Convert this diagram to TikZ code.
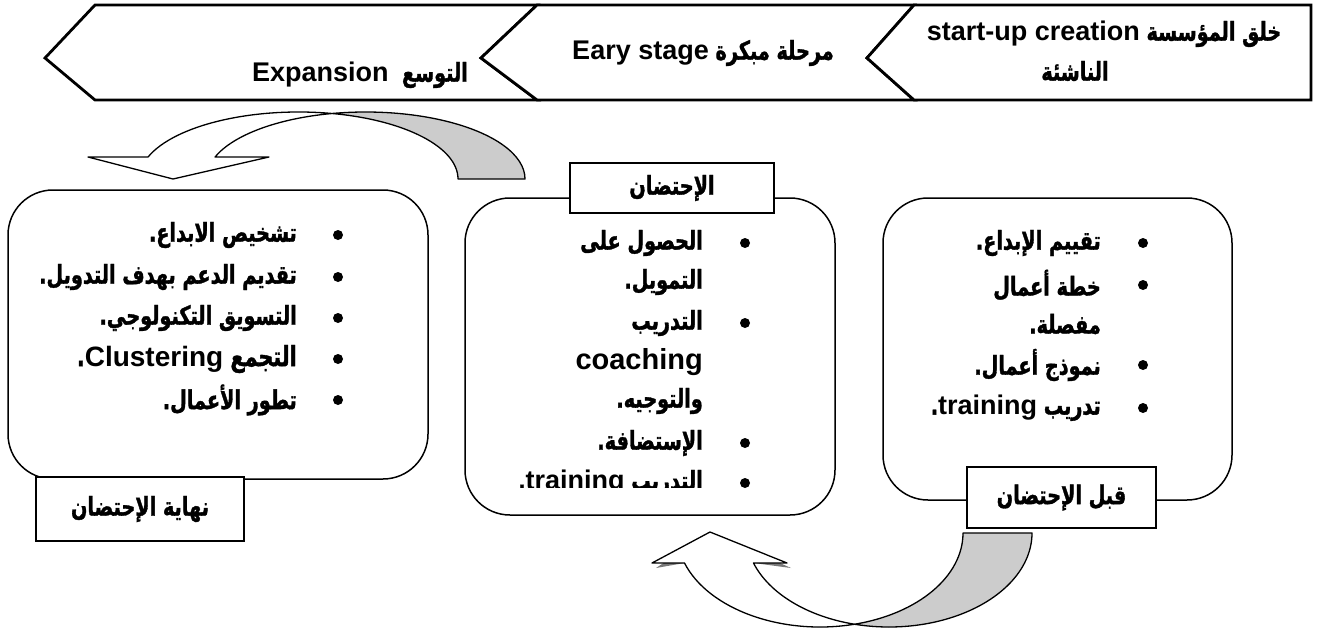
\documentclass[tikz,border=0pt]{standalone}
\usepackage{fontspec}
\setmainfont{Liberation Sans}
\newfontfamily\arabicfont[Script=Arabic, FakeStretch=0.74, BoldFeatures={FakeBold=1.3}]{DejaVu Sans}
\newfontfamily\latinfont{Liberation Sans}
\TeXXeTstate=1
\def\ltsz{27}
\newcommand{\artxt}[1]{{\arabicfont\bfseries\beginR #1\endR}}
\newcommand{\lttxt}[1]{\beginL{\latinfont\bfseries\fontsize{\ltsz}{\ltsz}\selectfont #1}\endL}
\definecolor{backgray}{RGB}{204,204,204}
\definecolor{shadegray}{RGB}{120,120,120}

% curved block arrow from the pre-incubation box back to the incubation box
\newcommand{\upArrowFront}{(btip) -- (787,-563) -- ([shift={(198.6:143 and 94)}]br)
  arc[start angle=198.6, end angle=256.04, x radius=143, y radius=94]
  arc[start angle=283.96, end angle=198.6, x radius=143, y radius=94]
  -- (652,-563) -- cycle}
\newcommand{\upArrowBack}{([shift={(283.96:143 and 94)}]bl)
  arc[start angle=283.96, end angle=360, x radius=143, y radius=94]
  -- ([shift={(0:143 and 94)}]br)
  arc[start angle=360, end angle=256.04, x radius=143, y radius=94] -- cycle}

\begin{document}
\begin{tikzpicture}[x=1pt,y=1pt,
  band/.style={draw, line width=2.8pt, line join=miter, fill=white},
  panel/.style={draw, line width=1.5pt, rounded corners=45pt, fill=white},
  tag/.style={draw, line width=1.8pt, fill=white, inner sep=0pt,
    font=\fontsize{26}{30}\selectfont},
  item/.style={anchor=east, inner sep=0pt, font=\fontsize{26}{30}\selectfont},
  bantext/.style={inner sep=0pt, font=\fontsize{26}{30}\selectfont},
  dot/.style={circle, fill=black, minimum size=10pt, inner sep=0pt},
  arrowline/.style={draw, line width=1.3pt, line join=round}]

\useasboundingbox (0,0) rectangle (1317,-637);
\fill[white] (0,0) rectangle (1317,-637);

% ---- stage banner (three chevrons) ----
\draw[band] (95,-5) -- (537,-5) -- (481,-58) -- (537,-100) -- (95,-100) -- (45,-58) -- cycle;
\draw[band] (537,-5) -- (914,-5) -- (867,-58) -- (914,-100) -- (537,-100) -- (481,-58) -- cycle;
\draw[band] (914,-5) -- (1311,-5) -- (1311,-100) -- (914,-100) -- (867,-58) -- cycle;

\node[bantext] (expansion) at (360,-75) {\artxt{التوسع\ \ \lttxt{Expansion}}};
\node[bantext] (early) at (703,-53) {\artxt{مرحلة مبكرة \lttxt{Eary stage}}};
\node[bantext] (startupA) at (1104,-34) {\artxt{خلق المؤسسة \lttxt{start-up creation}}};
\node[bantext] (startupB) at (1075,-71) {\artxt{الناشئة}};

% ---- curved arrow: incubation -> end of incubation ----
\coordinate (tl) at (298.6,-179);
\coordinate (tr) at (365.6,-179);
\coordinate (ttip) at (173,-179);
\draw[arrowline, fill=backgray] ([shift={(77.87:159.4 and 67)}]tl)
  arc[start angle=77.87, end angle=0, x radius=159.4, y radius=67]
  -- ([shift={(0:159.4 and 67)}]tr)
  arc[start angle=0, end angle=102.13, x radius=159.4, y radius=67] -- cycle;
\draw[arrowline, fill=white] (ttip) -- (88,-157) -- ([shift={(160.83:159.4 and 67)}]tl)
  arc[start angle=160.83, end angle=77.87, x radius=159.4, y radius=67]
  arc[start angle=102.13, end angle=160.83, x radius=159.4, y radius=67]
  -- (269,-157) -- cycle;

% ---- curved arrow: pre-incubation -> incubation (with shadow) ----
\coordinate (bl) at (820,-533);
\coordinate (br) at (889,-533);
\coordinate (btip) at (710,-532);
\begin{scope}[shift={(4,-5)}]
  \fill[shadegray] \upArrowBack;
  \fill[shadegray] \upArrowFront;
\end{scope}
\draw[arrowline, fill=backgray] \upArrowBack;
\draw[arrowline, fill=white] \upArrowFront;

% ---- phase boxes ----
\node[panel, minimum width=420, minimum height=289] (endbox) at (218,-334.5) {};
\node[panel, minimum width=370, minimum height=317] (incbox) at (650,-356.5) {};
\node[panel, minimum width=349, minimum height=302] (prebox) at (1057.5,-349) {};

% end of incubation
\node[dot] (e1d) at (338,-235) {};
\node[dot] (e2d) at (338,-277) {};
\node[dot] (e3d) at (338,-318) {};
\node[dot] (e4d) at (338,-359) {};
\node[dot] (e5d) at (338,-400) {};
\node[item] (e1) at (297,-235) {\artxt{تشخيص الابداع.}};
\node[item] (e2) at (297,-277) {\artxt{تقديم الدعم بهدف التدويل.}};
\node[item] (e3) at (297,-318) {\artxt{التسويق التكنولوجي.}};
\node[item, font=\fontsize{28}{32}\selectfont] (e4) at (297,-359)
  {\def\ltsz{28}\artxt{التجمع \lttxt{Clustering}.}};
\node[item] (e5) at (297,-400) {\artxt{تطور الأعمال.}};

% incubation
\node[dot] (i1d) at (745,-243) {};
\node[dot] (i2d) at (745,-323) {};
\node[dot] (i3d) at (745,-443) {};
\node[dot] (i4d) at (745,-483) {};
\node[item] (i1) at (703,-243) {\artxt{الحصول على}};
\node[item] (i1b) at (703,-282) {\artxt{التمويل.}};
\node[item] (i2) at (703,-323) {\artxt{التدريب}};
\node[item] (i2b) at (703,-362) {\def\ltsz{29}\lttxt{coaching}};
\node[item] (i2c) at (703,-401) {\artxt{والتوجيه.}};
\node[item] (i3) at (703,-443) {\artxt{الإستضافة.}};
\begin{scope}
  \clip (470,-420) rectangle (830,-487);
  \node[item] (i4) at (703,-483) {\artxt{التدريب \lttxt{training}.}};
\end{scope}

% pre-incubation
\node[dot] (p1d) at (1143,-243) {};
\node[dot] (p2d) at (1143,-285) {};
\node[dot] (p3d) at (1143,-365) {};
\node[dot] (p4d) at (1143,-408) {};
\node[item] (p1) at (1101,-243) {\artxt{تقييم الإبداع.}};
\node[item] (p2) at (1101,-285) {\artxt{خطة أعمال}};
\node[item] (p2b) at (1101,-324) {\artxt{مفصلة.}};
\node[item] (p3) at (1101,-365) {\artxt{نموذج أعمال.}};
\node[item] (p4) at (1101,-408) {\artxt{تدريب \lttxt{training}.}};

% ---- phase tags ----
\node[tag, minimum width=204, minimum height=50] (inctag) at (672,-188) {\artxt{الإحتضان}};
\node[tag, minimum width=189, minimum height=61] (pretag) at (1061.5,-497.5) {\artxt{قبل الإحتضان}};
\node[tag, minimum width=208, minimum height=64] (endtag) at (140,-509) {\artxt{نهاية الإحتضان}};
\end{tikzpicture}
\end{document}
